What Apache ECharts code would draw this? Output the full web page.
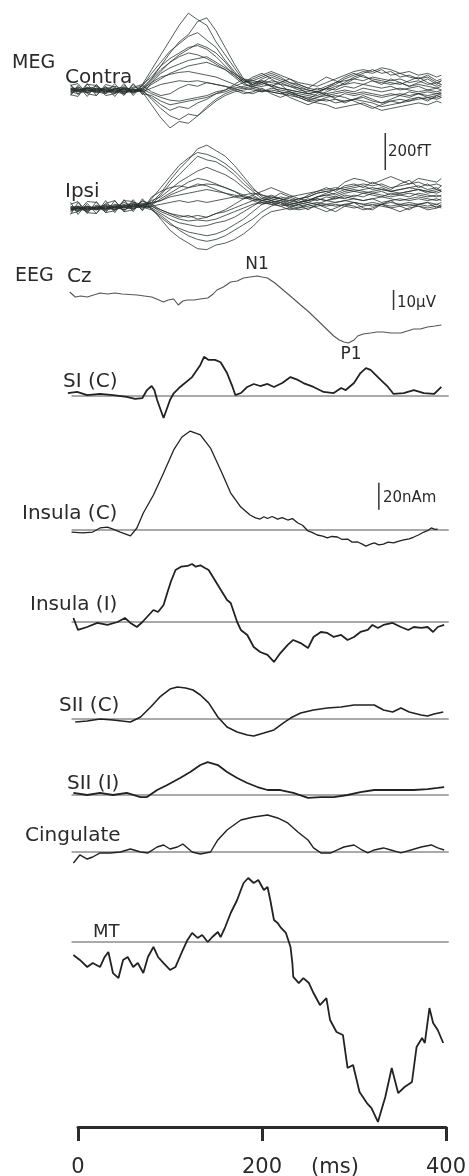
<!DOCTYPE html>
<html><head><meta charset="utf-8">
<script src="https://cdn.jsdelivr.net/npm/echarts@6/dist/echarts.min.js"></script>
<style>html,body{margin:0;padding:0;background:#fff}#c{width:469px;height:1176px}</style>
</head><body><div id="c"></div>
<script>
// ---------------- DATA ----------------
// MEG (fT), shared time base (ms)
const megTime = [-8,0,10,20,30,40,50,60,70,80,90,100,110,120,130,140,150,160,170,180,190,200,210,220,230,240,250,260,270,280,290,300,310,320,330,340,350,360,370,380,390,395];
const contra1 = [10,-5,15,5,-10,10,0,15,30,110,190,270,350,415,380,350,260,190,120,50,30,60,80,60,40,20,0,-10,10,30,60,80,100,90,110,80,90,70,60,80,50,60];
const contra2 = [-10,5,-10,10,0,-15,10,-5,10,60,130,200,260,300,370,390,320,230,140,60,20,40,70,50,30,10,-20,-30,-10,10,40,70,90,110,90,100,70,80,60,70,40,50];
const contra3 = [20,0,10,-5,15,0,-10,10,20,90,150,210,250,290,310,270,230,160,100,40,50,70,90,70,40,30,10,0,20,40,50,60,50,70,60,50,60,40,50,30,40,30];
const contra4 = [-5,10,-15,0,5,20,5,-10,0,50,100,150,190,220,250,230,200,150,90,50,40,50,40,30,20,0,-10,10,0,20,30,40,30,50,40,30,40,20,30,20,10,20];
const contra5 = [5,-10,5,20,-5,5,15,0,10,60,110,150,180,200,190,170,140,110,70,30,20,30,50,40,20,10,0,-10,10,0,20,10,30,20,10,20,0,10,20,0,10,0];
const contra6 = [0,15,0,-10,10,-5,-15,5,-5,30,60,90,110,130,140,150,130,110,80,40,10,20,30,10,0,-10,-20,-10,-20,-10,0,-10,10,0,-10,0,10,0,-10,0,-10,0];
const contra7 = [-15,0,10,-5,-15,10,0,-10,5,40,70,85,95,100,90,80,70,50,30,10,0,-10,10,0,-10,-20,-30,-40,-30,-40,-20,-30,-20,-30,-40,-30,-20,-30,-20,-10,-20,-10];
const contra8 = [10,5,-5,10,0,-10,10,0,-10,10,30,40,50,45,50,40,30,20,10,-10,-20,0,-10,-20,-10,-30,-50,-60,-50,-70,-60,-50,-60,-70,-90,-80,-70,-60,-50,-40,-50,-40];
const contra9 = [-10,-20,0,-15,5,-10,-20,0,-10,-80,-150,-205,-170,-180,-140,-90,-50,-20,0,10,20,0,-10,-20,-30,-40,-60,-70,-80,-100,-90,-80,-70,-90,-110,-100,-90,-80,-70,-80,-60,-70];
const contra10 = [0,-5,-15,5,-10,0,-5,-15,0,-50,-100,-140,-160,-130,-140,-100,-60,-30,-10,0,10,-10,0,-10,-20,-30,-40,-50,-60,-50,-60,-50,-40,-60,-70,-60,-50,-60,-40,-50,-40,-30];
const contra11 = [-20,0,5,-10,-20,5,-10,5,-5,-40,-80,-110,-90,-100,-70,-50,-20,-10,10,20,30,40,20,10,0,-10,-20,-10,-30,-20,-10,-20,-10,-20,-30,-20,-30,-10,-20,-30,-20,-20];
const contra12 = [5,-10,10,0,-5,-20,5,-10,5,-20,-40,-55,-60,-50,-40,-30,-10,0,20,40,60,80,100,80,60,40,30,20,40,60,80,100,110,100,120,110,90,100,80,90,70,80];
const contra13 = [30,-25,35,-30,20,-35,25,-20,30,70,130,170,200,230,240,220,180,130,80,40,70,90,60,30,-10,-30,-50,-20,10,40,70,90,70,60,50,40,30,50,70,40,20,30];
const contra14 = [-30,25,-35,30,-20,35,-25,30,-20,-30,-60,-80,-70,-60,-50,-40,-20,0,30,60,50,40,20,-10,-40,-60,-80,-60,-40,-30,-40,-60,-80,-100,-80,-60,-70,-50,-40,-60,-30,-40];
const contra15 = [25,35,-20,-30,30,15,-30,35,-25,40,90,120,140,160,170,180,150,120,90,60,30,50,20,40,60,30,10,40,70,50,30,60,80,50,30,60,40,20,40,60,30,50];
const contra16 = [-25,-35,30,25,-30,-20,35,-30,25,-10,-30,-20,10,30,20,40,30,20,0,-20,-10,10,-20,-40,-20,-40,-60,-40,-20,-50,-70,-50,-30,-50,-70,-50,-30,-40,-20,-40,-30,-20];

const ipsi1 = [-10,0,-20,10,0,20,10,30,20,30,80,150,210,260,320,340,310,280,230,170,110,60,40,60,50,30,40,60,70,80,100,110,120,100,110,90,100,110,120,100,110,90];
const ipsi2 = [0,-15,5,-5,20,5,30,10,35,20,70,130,180,230,280,260,250,220,180,130,90,50,70,50,30,50,60,80,90,70,90,100,90,80,90,70,80,90,100,80,90,100];
const ipsi3 = [-20,5,-10,15,-5,10,0,20,10,40,60,100,140,170,200,220,200,180,150,110,70,40,30,40,20,30,50,40,60,50,70,60,80,70,60,80,70,60,80,70,60,70];
const ipsi4 = [10,-5,0,-10,10,0,20,5,25,15,50,80,110,140,160,150,130,110,90,70,50,30,20,30,10,20,30,20,40,30,40,50,40,50,30,40,50,40,50,40,50,40];
const ipsi5 = [-5,10,-5,5,-10,15,5,-5,15,25,40,60,70,80,90,100,90,80,70,60,50,40,50,40,30,20,30,50,40,60,50,70,60,80,70,60,70,80,70,60,70,60];
const ipsi6 = [0,-10,10,0,-5,10,-10,15,5,10,20,30,40,30,40,30,40,50,60,70,80,70,60,50,40,50,60,80,90,100,110,120,130,120,130,110,120,130,140,120,130,120];
const ipsi7 = [-15,0,-15,5,-5,5,-10,10,0,10,-10,-30,-40,-50,-40,-50,-30,-20,0,20,40,50,40,30,20,10,20,30,20,30,40,30,20,30,20,10,20,30,20,10,20,10];
const ipsi8 = [5,-5,0,-10,5,-5,15,0,10,0,-30,-60,-80,-90,-100,-95,-80,-70,-50,-20,10,40,60,50,40,30,40,60,70,60,80,90,80,90,100,90,100,110,100,90,100,90];
const ipsi9 = [-10,5,-5,0,-15,5,0,20,5,-10,-50,-90,-110,-130,-140,-150,-140,-120,-90,-60,-20,20,40,20,10,0,10,20,10,20,10,0,10,20,10,0,10,20,10,0,10,0];
const ipsi10 = [0,-20,5,-5,10,-10,5,-5,15,0,-60,-120,-160,-190,-220,-225,-200,-190,-170,-140,-100,-50,-20,-10,0,-10,0,10,20,10,20,30,20,10,20,30,20,10,20,30,20,30];
const ipsi11 = [5,10,-10,5,15,0,10,25,10,30,40,70,90,110,120,130,125,110,90,60,40,20,30,40,60,70,80,90,100,110,100,90,100,110,100,90,80,90,100,90,80,90];
const ipsi12 = [-5,0,10,-5,0,-10,10,5,20,10,-20,-40,-60,-70,-65,-70,-60,-40,-20,0,20,30,20,10,20,30,40,50,40,50,60,50,40,50,60,50,40,50,60,50,40,50];
const ipsi13 = [-35,30,-30,35,-25,40,-20,45,-15,50,110,170,230,270,300,290,270,240,200,150,100,70,50,80,60,40,70,90,110,90,120,130,110,140,120,100,130,150,110,130,100,120];
const ipsi14 = [30,-35,25,-30,40,-25,45,-20,50,-10,-40,-80,-120,-150,-170,-180,-170,-150,-120,-90,-60,-20,10,30,0,20,-10,20,0,-20,10,30,0,-10,20,40,10,-10,20,30,0,20];
const ipsi15 = [-30,-20,35,30,-25,-15,40,35,-10,60,90,110,120,110,130,120,100,80,60,50,70,90,110,90,70,50,40,60,80,100,140,160,150,130,150,170,150,130,160,150,140,160];
const ipsi16 = [20,35,-25,-30,25,40,-20,-10,40,20,-10,-30,-50,-40,-60,-50,-30,-10,20,50,60,40,30,10,-10,0,20,0,-20,0,20,10,-10,0,20,0,-20,0,10,-10,0,10];

// EEG Cz (µV, negative up)
const eegTime = [-9,-3,3,10,17,24,32,40,48,56,64,72,80,88,93,98,104,109,114,119,126,133,141,147,151,158,166,173,180,187,195,200,206,214,223,232,242,251,260,269,278,284,289,294,300,304,310,318,325,332,340,351,358,365,372,380,388,395];
const eegValue = [-1.5,1,0.5,1,0,-1,-0.5,-1,-0.5,-0.25,0,0.5,1,2.5,3.5,2.5,2,5,3,2.5,2.5,2,1.5,-0.5,-2.5,-4,-6.5,-7,-8.5,-9,-9.5,-9,-8.5,-6,-2.5,1,5,8.5,12.5,16.5,20.5,22.5,23.5,24,22.5,20.5,19.5,19,18.5,18.5,19,19,18,17,17,16,15.5,15];

// Source waveforms (nAm)
const siTime = [-11,-1,10,24,38,53,62,70,75,80,83,86,93,100,104,111,124,133,137,142,149,155,162,168,171,177,184,191,198,206,213,222,231,239,245,256,267,278,286,291,300,307,313,318,329,337,343,354,365,376,387,395];
const siValue = [2.2,3,0.7,1.5,0.7,-0.7,-2.2,-1.5,4.4,7.4,4.4,-3,-16.3,-3,2,6.7,14,23,29,26.7,26.7,25,17,6.7,0.7,2.2,6.7,8.9,7.4,8.9,6.7,9.6,14,11.9,9.6,6.7,3,2.2,5.9,4.4,9.6,17,20.7,19.3,11.9,6.7,1.5,2.2,4.4,2.2,1.5,6.7];

const insCTime = [-7,5,16,24,32,38,46,57,64,71,82,93,104,113,122,133,144,155,166,177,187,193,198,202,206,211,217,222,228,233,239,244,250,255,260,266,271,276,282,287,293,298,304,309,313,318,322,327,332,337,343,348,354,360,365,370,376,380,384,388,391];
const insCValue = [-1.5,-2.2,-1.5,1.5,2.2,0.7,-1.5,-4.4,1.5,12.6,25.9,42.2,59.3,68.9,73.3,70.4,60.7,44.4,27.4,17,11.1,9,8.1,9.8,8.5,10,8.1,9.2,7.4,8.5,5.2,3.5,-0.7,-2,-3.7,-4.5,-5.9,-4.8,-5.2,-7,-6.7,-9,-8.9,-10.5,-11.9,-10.5,-9.6,-11,-10.4,-9,-9.6,-8.5,-7.4,-6.5,-5.2,-3.7,-1.5,-0.5,1.5,0.5,0.7];

const insITime = [-5,0,10,21,32,43,51,57,64,70,75,82,87,93,97,101,106,112,119,124,128,133,138,142,152,162,166,173,177,184,191,198,206,213,220,228,234,242,250,256,264,271,278,286,293,300,307,315,320,326,332,342,351,359,365,373,380,386,391,398];
const insIValue = [3,-5.9,-3.7,-0.7,-2.2,0,3,-0.7,-3.7,0,3.7,8.9,7.4,12.6,21.5,30,38.5,41,41.5,43,41,42,40,38.5,27.4,16.3,14.1,0,-5.9,-9.6,-18.5,-22.2,-24.4,-29.6,-23,-17,-13.3,-15.6,-19.3,-11.1,-7.4,-8.1,-11.1,-9.6,-13.3,-11.1,-7.4,-5.9,-2.2,-4.4,-2.2,-0.7,-3.7,-5.9,-3.7,-4.4,-3.7,-7.4,-3.7,-2.2];

const siiCTime = [-3,10,24,38,57,68,79,89,100,108,117,125,133,142,152,162,173,184,191,202,213,223,231,242,256,271,286,300,311,322,332,342,351,360,373,380,387,397];
const siiCValue = [-2.2,-1.5,0,-0.7,-2.2,1.5,8.9,16.3,22.2,23.7,23,21.5,17.8,11.9,1.5,-5.9,-9.6,-11.9,-12.6,-10.4,-8.1,-3,0.7,4.4,6.7,8.1,8.9,10.4,10.4,10.4,6.7,5.2,8.1,5.2,3,2.2,3.7,5.2];

const siiITime = [-5,10,24,38,53,68,75,86,97,111,122,133,141,152,162,173,184,195,206,220,234,250,264,278,293,307,322,337,351,365,380,391,398];
const siiIValue = [1.5,0,1.5,0,1.5,-1.5,-1.5,3.7,7.4,12.6,17,22.2,24.4,22.2,17,12.6,8.9,5.9,3.7,3.7,1.5,-2.2,-1.5,-1.5,0,2.2,3.7,3.7,3.7,3.7,4.4,5.2,5.9];

const cingTime = [-5,2,10,16,24,35,46,57,68,76,86,93,100,108,114,124,133,144,152,162,177,191,206,217,228,239,250,256,264,275,282,289,300,307,315,322,332,340,351,362,373,384,391,398];
const cingValue = [-8.1,-2.2,-5.2,-3.7,-0.7,-0.7,0,2.2,0,-0.7,3.7,5.2,2.2,3.7,5.9,0,-1.5,0,8.9,16.3,23.7,25.9,27.4,25.2,21.5,14.8,8.9,3,-0.7,-0.7,1.5,3.7,5.2,2.2,-0.7,1.5,3,1.5,-0.7,1.5,3.7,5.2,3,1.5];

const mtTime = [-5,2,10,16,24,29,33,38,44,49,54,60,65,71,76,82,87,93,100,106,113,119,124,130,135,141,146,152,155,160,166,173,177,180,185,191,196,202,206,209,213,217,220,226,231,233,234,240,245,251,256,263,270,274,281,288,293,299,306,314,319,326,334,341,348,355,363,368,374,377,382,386,391,397];
const mtValue = [-9.6,-13.3,-18.5,-15.6,-18.5,-11.1,-7.4,-23,-26.7,-13.3,-11.1,-18.5,-15.6,-23,-11.1,-3.7,-11.1,-15.6,-20.7,-18.5,-7.4,1.5,6.7,3,5.2,0,3.7,7.4,3.7,11.1,21.5,31.1,38.5,43.7,47.4,43.7,45.9,38.5,40.7,31.1,16.3,14.1,11.1,6.7,-3.7,-15.6,-25.9,-30.4,-26.7,-30.4,-37.8,-46.7,-41.5,-57.8,-66.7,-68.9,-93.3,-91.1,-111.1,-119.3,-123,-133.3,-114.8,-93.3,-111.9,-107.4,-103.7,-77.8,-71.1,-74.8,-48.9,-60,-65.2,-74.8];

const baselineSpan = [-7, 403];           // ms extent of zero lines
const axisTicks = [0, 200, 400];           // ms
const scaleBarValues = {meg: 200, eeg: 10, source: 20};

// ---------------- LAYOUT ----------------
const X0 = 78, PX_PER_MS = 0.92, T_MIN = -10, T_MAX = 410;
const panels = [
  {key:'contra', base:90,  scale:0.185, min:-250, max:450},
  {key:'ipsi',   base:208, scale:0.185, min:-260, max:420},
  {key:'eeg',    base:295, scale:2,     min:-12,  max:27, inverse:true},
  {key:'si',     base:396, scale:1.35,  min:-20,  max:35},
  {key:'insC',   base:530, scale:1.35,  min:-15,  max:80},
  {key:'insI',   base:622, scale:1.35,  min:-33,  max:48},
  {key:'siiC',   base:719, scale:1.35,  min:-15,  max:28},
  {key:'siiI',   base:795, scale:1.35,  min:-8,   max:28},
  {key:'cing',   base:852, scale:1.35,  min:-10,  max:30},
  {key:'mt',     base:942, scale:1.35,  min:-140, max:50}
];
const pIdx = {}; panels.forEach((p,i)=>pIdx[p.key]=i);

const grids = [], xAxes = [], yAxes = [], series = [];
panels.forEach((p) => {
  const h = p.scale * (p.max - p.min);
  const top = p.inverse ? p.base + p.scale * p.min : p.base - p.scale * p.max;
  grids.push({left: X0 + T_MIN*PX_PER_MS, width: (T_MAX-T_MIN)*PX_PER_MS, top, height: h, containLabel:false, outerBoundsMode:'none'});
  xAxes.push({type:'value', min:T_MIN, max:T_MAX, show:false, gridIndex: grids.length-1});
  yAxes.push({type:'value', min:p.min, max:p.max, inverse: !!p.inverse, show:false, gridIndex: grids.length-1});
});
// axis grid
grids.push({left: X0, width: 400*PX_PER_MS, top: 1117, height: 10, containLabel:false, outerBoundsMode:'none'});
const axG = grids.length-1;
xAxes.push({type:'value', gridIndex:axG, min:axisTicks[0], max:axisTicks[axisTicks.length-1], interval:axisTicks[1]-axisTicks[0],
  axisLine:{show:true, onZero:false, lineStyle:{color:'#2b2b2b', width:3}},
  axisTick:{show:true, inside:false, length:14, lineStyle:{color:'#2b2b2b', width:3}},
  axisLabel:{show:true, margin:30, color:'#2b2b2b', fontSize:21, fontFamily:'DejaVu Sans'},
  splitLine:{show:false}});
yAxes.push({type:'value', gridIndex:axG, show:false, min:0, max:1});

function pairs(ts, vs){ return ts.map((t,i)=>[t, vs[i]]); }
function addLine(key, data, color, width, opacity){
  const i = pIdx[key];
  series.push({type:'line', xAxisIndex:i, yAxisIndex:i, data, showSymbol:false, symbol:'none',
    lineStyle:{color, width, opacity: opacity==null?1:opacity}, silent:true, animation:false, z:3});
}

const contraTraces = [contra1,contra2,contra3,contra4,contra5,contra6,contra7,contra8,contra9,contra10,contra11,contra12,contra13,contra14,contra15,contra16];
const ipsiTraces = [ipsi1,ipsi2,ipsi3,ipsi4,ipsi5,ipsi6,ipsi7,ipsi8,ipsi9,ipsi10,ipsi11,ipsi12,ipsi13,ipsi14,ipsi15,ipsi16];
contraTraces.forEach(v => addLine('contra', pairs(megTime, v), '#27302b', 1, 0.78));
ipsiTraces.forEach(v => addLine('ipsi', pairs(megTime, v), '#27302b', 1, 0.78));
addLine('eeg', pairs(eegTime, eegValue), '#555', 1.1);

const sources = [
  ['si', siTime, siValue, 1.8],
  ['insC', insCTime, insCValue, 1.3],
  ['insI', insITime, insIValue, 1.8],
  ['siiC', siiCTime, siiCValue, 1.6],
  ['siiI', siiITime, siiIValue, 1.8],
  ['cing', cingTime, cingValue, 1.4],
  ['mt', mtTime, mtValue, 1.8]
];
sources.forEach(([k,t,v,w]) => {
  addLine(k, [[baselineSpan[0],0],[baselineSpan[1],0]], '#555', 1);
  addLine(k, pairs(t, v), '#222', w);
});

// scale bars
const bars = [
  {key:'ipsi', t:334, from:205, size:scaleBarValues.meg},
  {key:'eeg',  t:343, from:-2.5, size:scaleBarValues.eeg},
  {key:'insC', t:327, from:15, size:scaleBarValues.source}
];
bars.forEach(b => addLine(b.key, [[b.t, b.from],[b.t, b.from + b.size]], '#333', 1.5));

// ---------------- TEXT ----------------
const FONT = 'DejaVu Sans';
const labels = [
  ['MEG', 12, 69, 19, 'left'],
  ['Contra', 65, 84, 20, 'left'],
  ['Ipsi', 65, 198, 20, 'left'],
  ['EEG', 15, 282, 19, 'left'],
  ['Cz', 67, 283, 20, 'left'],
  ['N1', 257, 270, 17, 'center'],
  ['P1', 351, 360, 17, 'center'],
  ['SI (C)', 63, 388, 20, 'left'],
  ['Insula (C)', 22, 520, 20, 'left'],
  ['Insula (I)', 30, 611, 20, 'left'],
  ['SII (C)', 59, 712, 20, 'left'],
  ['SII (I)', 67, 790, 20, 'left'],
  ['Cingulate', 25, 842, 20, 'left'],
  ['MT', 93, 938, 18, 'left'],
  [scaleBarValues.meg + 'fT', 388, 157, 15, 'left'],
  [scaleBarValues.eeg + 'µV', 397, 308, 15, 'left'],
  [scaleBarValues.source + 'nAm', 383, 503, 15, 'left'],
  ['(ms)', 335, 1174, 21, 'center']
];
const graphic = labels.map(([text,x,baseline,fs,align]) => ({
  type:'text', x, y: baseline - 0.3*fs, silent:true, z:10,
  style:{text, fill:'#2a2a2a', font: fs + 'px "' + FONT + '"', align, verticalAlign:'middle'}
}));

const chart = echarts.init(document.getElementById('c'), null, {renderer:'canvas', width:469, height:1176});
chart.setOption({
  animation:false,
  backgroundColor:'#ffffff',
  grid: grids, xAxis: xAxes, yAxis: yAxes, series, graphic
});
</script></body></html>
